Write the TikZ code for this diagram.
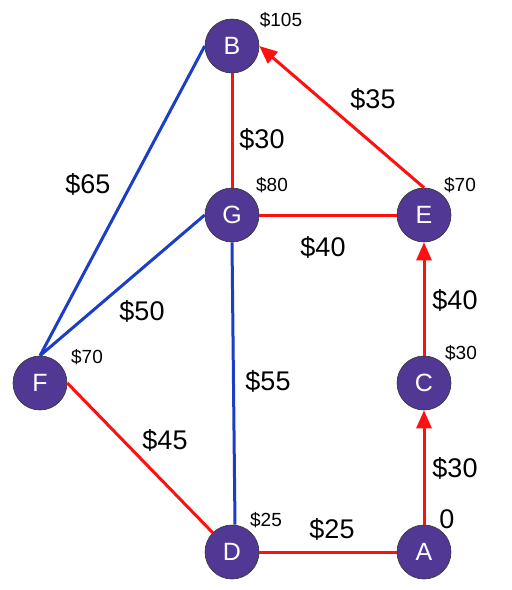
\documentclass[tikz,border=0pt]{standalone}
\usepackage{fontspec}
\setmainfont{Liberation Sans}
\usetikzlibrary{arrows.meta}
\definecolor{nodepurple}{RGB}{80,56,148}
\definecolor{edgered}{RGB}{255,16,16}
\definecolor{edgeblue}{RGB}{28,62,198}
\tikzset{
  vert/.style={circle, fill=nodepurple, draw=black!80, line width=0.6pt, minimum size=54pt, inner sep=0pt, text=white, font=\fontsize{25}{25}\selectfont},
  cost/.style={font=\fontsize{19}{19}\selectfont, text=black, inner sep=0pt},
  wt/.style={font=\fontsize{27}{27}\selectfont, text=black, inner sep=0pt},
  rline/.style={draw=edgered, line width=3pt},
  bline/.style={draw=edgeblue, line width=3pt},
  rarrow/.style={rline, -{Triangle[width=15pt,length=18pt]}},
}
\begin{document}
\begin{tikzpicture}[x=1pt,y=-1pt]
\useasboundingbox (0,0) rectangle (512,590);
\node[vert] (B) at (232,46) {B};
\node[vert] (G) at (232,215) {G};
\node[vert] (E) at (424,215) {E};
\node[vert] (C) at (424,383) {C};
\node[vert] (F) at (40,383) {F};
\node[vert] (D) at (232,552) {D};
\node[vert] (A) at (424,552) {A};
% edges
\draw[rline] (B.south) -- (G.north);
\draw[rline] (G.east) -- (E.west);
\draw[rarrow] (E.north) -- (B.east);
\draw[rarrow] (C.north) -- (E.south);
\draw[rarrow] (A.north) -- (C.south);
\draw[rline] (D.east) -- (A.west);
\draw[rline] (F.east) -- (D.north west);
\draw[bline] (B.west) -- (F.north);
\draw[bline] (G.west) -- (F.north);
\draw[bline] (G.south) -- ([xshift=3pt]D.north);
% cost labels
\node[cost] (cB) at (281,20) {\$105};
\node[cost] (cG) at (272,185) {\$80};
\node[cost] (cE) at (460,185) {\$70};
\node[cost] (cC) at (461,353) {\$30};
\node[cost] (cF) at (87,357) {\$70};
\node[cost] (cD) at (266,520) {\$25};
\node[wt] (cA) at (447,519) {0};
% weights
\node[wt] (wBE) at (373,99) {\$35};
\node[wt] (wBG) at (262,139) {\$30};
\node[wt] (wBF) at (88,184) {\$65};
\node[wt] (wGE) at (323,247) {\$40};
\node[wt] (wEC) at (455,300) {\$40};
\node[wt] (wGF) at (142,311) {\$50};
\node[wt] (wGD) at (268,381) {\$55};
\node[wt] (wFD) at (165,440) {\$45};
\node[wt] (wCA) at (455,468) {\$30};
\node[wt] (wDA) at (332,529) {\$25};
\end{tikzpicture}
\end{document}
